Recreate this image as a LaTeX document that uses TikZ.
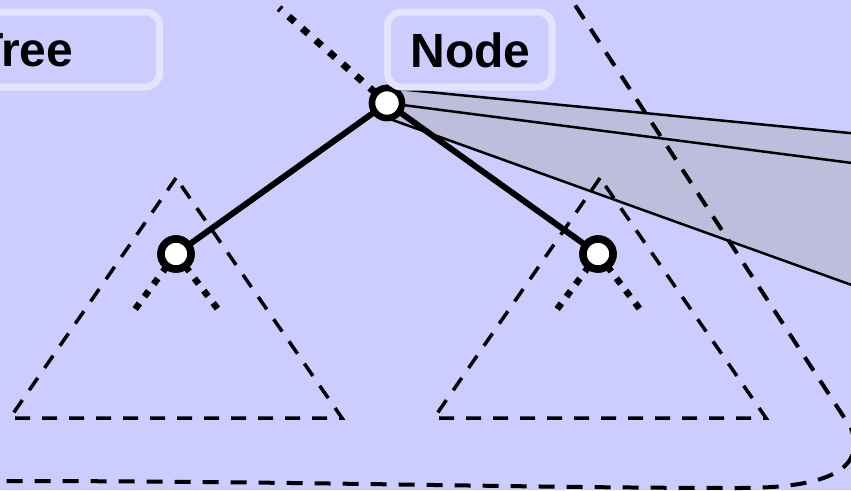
\documentclass[tikz,border=0pt]{standalone}
\usepackage{fontspec}
\setmainfont{Liberation Sans}
\definecolor{bg}{RGB}{204,204,255}
\definecolor{boxline}{RGB}{228,228,255}
\definecolor{wedgefill}{RGB}{190,190,220}
\tikzset{
  lblbox/.style={draw=boxline, line width=7pt, rounded corners=14pt, inner sep=0pt, outer sep=0pt},
  lbltext/.style={font=\fontsize{48}{48}\selectfont\bfseries, inner sep=0pt},
  vert/.style={circle, draw=black, fill=white, line width=6.5pt, minimum size=30pt, inner sep=0pt, outer sep=0pt},
  childvert/.style={vert, line width=7.5pt},
  treeedge/.style={line width=6pt, black},
  trisub/.style={line width=3.5pt, dash pattern=on 15pt off 12pt},
  outline/.style={line width=4pt, dash pattern=on 16pt off 12pt},
  stub/.style={line width=6.5pt, dash pattern=on 7pt off 8.5pt},
  upstub/.style={line width=7pt, dash pattern=on 8pt off 10pt},
  wedgeline/.style={line width=2.5pt, black}
}
\begin{document}
\begin{tikzpicture}[x=1pt,y=-1pt]
\useasboundingbox (0,0) rectangle (851,490);
\fill[bg] (0,0) rectangle (851,490);
\begin{scope}
\clip (0,0) rectangle (851,490);
% nodes (vertices)
\node[vert] (root) at (387,103) {};
\node[childvert] (lc) at (176,254) {};
\node[childvert] (rc) at (598,254) {};
% wedge
\coordinate (wt) at (860,134);
\coordinate (wm) at (860,164);
\coordinate (wb) at (860,288);
\fill[wedgefill] (root.north) -- (wt) -- (wb) -- (root.south) -- cycle;
\draw[wedgeline] (root.north) -- (wt);
\draw[wedgeline] (root.center) -- (wm);
\draw[wedgeline] (root.south) -- (wb);
% subtree triangles
\draw[trisub] (176,178) -- (10,418) -- (342,418) -- cycle;
\draw[trisub] (600,178) -- (434,418) -- (766,418) -- cycle;
% big outline
\draw[outline] (560,-18) -- (851,428) .. controls (866,468) and (830,488) .. (740,488)
  .. controls (520,488) and (300,481) .. (0,481) -- (-20,481);
% dotted stubs
\coordinate (lcl) at (133,312);
\coordinate (lcr) at (220,312);
\coordinate (rcl) at (555,312);
\coordinate (rcr) at (642,312);
\coordinate (up) at (279,8);
\draw[stub] (lc) -- (lcl);
\draw[stub] (lc) -- (lcr);
\draw[stub] (rc) -- (rcl);
\draw[stub] (rc) -- (rcr);
\draw[upstub] (root) -- (up);
% tree edges
\draw[treeedge] (root) -- (lc);
\draw[treeedge] (root) -- (rc);
% redraw vertices on top
\node[vert] at (root.center) {};
\node[childvert] at (lc.center) {};
\node[childvert] at (rc.center) {};
% labels
\node[lblbox, minimum width=219.5pt, minimum height=75pt] (treebox) at (49.75,49.5) {};
\node[lbltext] (treetext) at (24,50.5) {Tree};
\node[lblbox, minimum width=164.5pt, minimum height=75pt] (nodebox) at (469.75,49.5) {};
\node[lbltext] (nodetext) at (470.5,50.5) {Node};
\end{scope}
\end{tikzpicture}
\end{document}
